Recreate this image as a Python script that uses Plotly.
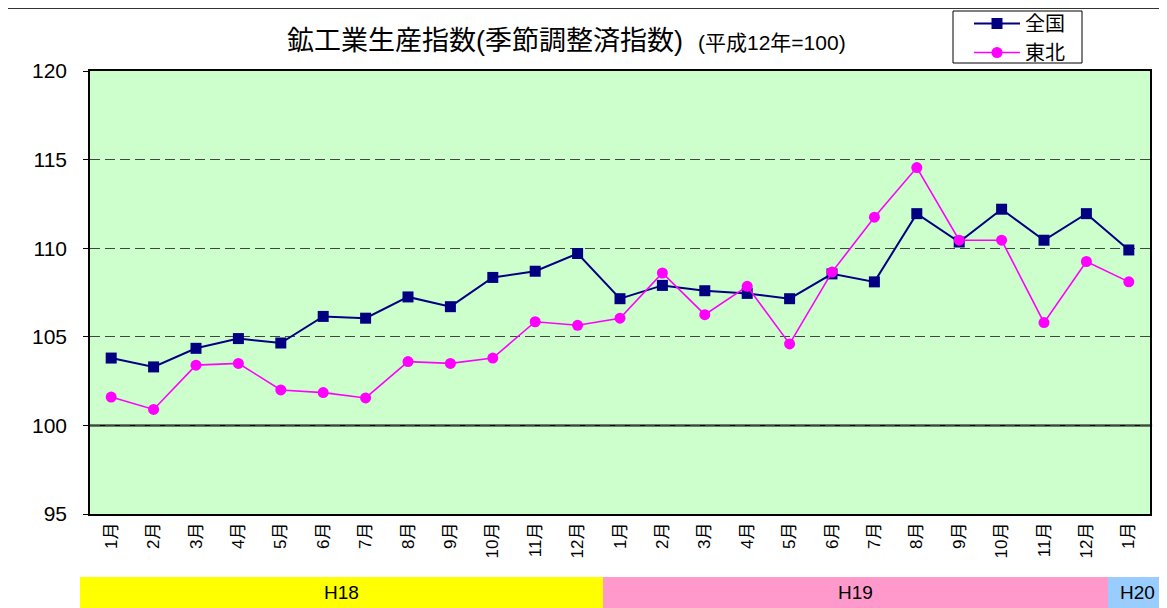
import plotly.graph_objects as go

months = ["1月", "2月", "3月", "4月", "5月", "6月", "7月", "8月", "9月", "10月", "11月", "12月",
          "1月", "2月", "3月", "4月", "5月", "6月", "7月", "8月", "9月", "10月", "11月", "12月",
          "1月"]
zenkoku = [103.8, 103.3, 104.35, 104.9, 104.65, 106.15, 106.05, 107.25, 106.7, 108.35, 108.7, 109.7,
           107.15, 107.9, 107.6, 107.45, 107.15, 108.55, 108.1, 111.95, 110.35, 112.2, 110.45, 111.95,
           109.9]
tohoku = [101.6, 100.9, 103.4, 103.5, 102.0, 101.85, 101.55, 103.6, 103.5, 103.8, 105.85, 105.65,
          106.05, 108.6, 106.25, 107.85, 104.6, 108.65, 111.75, 114.55, 110.45, 110.45, 105.8, 109.25,
          108.1]
series_names = ["全国", "東北"]
years = ["H18", "H19", "H20"]
yticks = [95, 100, 105, 110, 115, 120]

FONT = "Liberation Sans, Arial, Noto Sans CJK JP"
x = list(range(len(months)))

fig = go.Figure()
fig.add_trace(go.Scatter(x=x, y=zenkoku, name=series_names[0], mode="lines+markers",
                         line=dict(color="#000080", width=2),
                         marker=dict(symbol="square", size=11, color="#000080")))
fig.add_trace(go.Scatter(x=x, y=tohoku, name=series_names[1], mode="lines+markers",
                         line=dict(color="#FF00FF", width=1.6),
                         marker=dict(symbol="circle", size=11, color="#FF00FF")))

# screen coordinates (page has an 8px body margin)
OFF = 8
L, R, T, B = 90, 1150, 71, 514
W, H = 1167, 608
def px(xp):
    return (xp - L) / (R - L)
def py(yp):
    return (B - yp) / (B - T)

shapes = []
shapes.append(dict(type="line", xref="paper", yref="y", x0=0, x1=1.002, y0=100, y1=100,
                   line=dict(color="black", width=2), layer="below"))
# outer chart border (top & left)
shapes.append(dict(type="line", xref="paper", yref="paper", x0=px(7), x1=px(1175), y0=py(8), y1=py(8),
                   line=dict(color="#333", width=2)))
shapes.append(dict(type="line", xref="paper", yref="paper", x0=px(7), x1=px(7), y0=py(8), y1=py(616),
                   line=dict(color="#333", width=2)))
# legend box
shapes.append(dict(type="rect", xref="paper", yref="paper", x0=px(953), x1=px(1082), y0=py(63), y1=py(11),
                   fillcolor="white", line=dict(color="black", width=1)))
band_edges = [80, 603, 1108, 1180]
band_colors = ["#FFFF00", "#FF99CC", "#99CCFF"]
annotations = []
for i, yr in enumerate(years):
    x0, x1 = band_edges[i], band_edges[i + 1]
    shapes.append(dict(type="rect", xref="paper", yref="paper", x0=px(x0), x1=px(x1),
                       y0=py(616), y1=py(577), fillcolor=band_colors[i], line=dict(width=0)))
    cx = (x0 + min(x1, 1167)) / 2
    annotations.append(dict(xref="paper", yref="paper", x=px(cx), y=py(592), text=yr, showarrow=False,
                            font=dict(size=19, color="black", family=FONT), xanchor="center", yanchor="middle"))

annotations.append(dict(xref="paper", yref="paper", x=px(566), y=py(41),
                        text="鉱工業生産指数(季節調整済指数)  <span style='font-size:21px'>(平成12年=100)</span>",
                        showarrow=False, font=dict(size=27, color="black", family=FONT),
                        xanchor="center", yanchor="middle"))

fig.update_layout(
    width=W, height=H,
    margin=dict(l=L - OFF, r=W - (R - OFF), t=T - OFF, b=H - (B - OFF), pad=0, autoexpand=False),
    paper_bgcolor="white", plot_bgcolor="#CCFFCC",
    font=dict(family=FONT, color="black"),
    showlegend=True,
    legend=dict(x=px(969), y=py(4), xanchor="left", yanchor="top", bgcolor="rgba(0,0,0,0)",
                borderwidth=0, font=dict(size=20, family=FONT),
                tracegroupgap=0, itemwidth=46),
    shapes=shapes, annotations=annotations,
)
fig.update_xaxes(range=[-0.5, len(months) - 0.5], tickvals=x, ticktext=months, tickangle=-90,
                 tickfont=dict(size=17, family=FONT), showgrid=False, showline=True, linecolor="black",
                 linewidth=1.5, mirror=True, ticks="", zeroline=False)
fig.update_yaxes(range=[95, 120], tickvals=yticks, tickfont=dict(size=21, family=FONT),
                 showgrid=True, gridcolor="#444444", griddash="10px,5px", gridwidth=1,
                 showline=True, linecolor="black", linewidth=1.5, mirror=True,
                 ticks="outside", ticklen=5, tickcolor="black", zeroline=False,
                 ticklabelstandoff=12)

fig.write_html("out.html")
